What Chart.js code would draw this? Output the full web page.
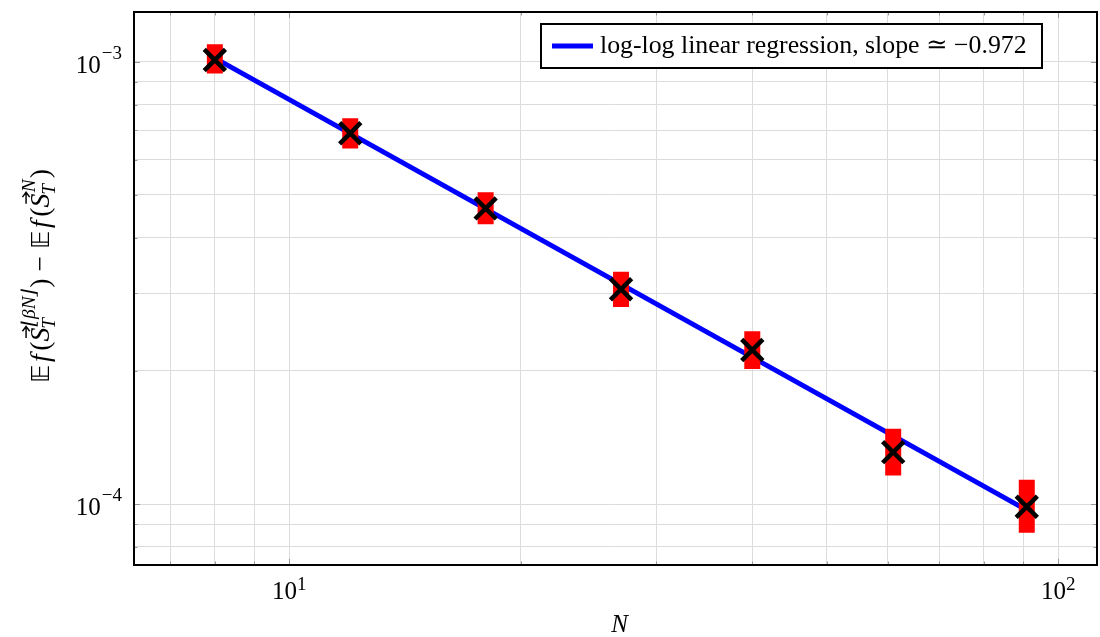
<!DOCTYPE html>
<html lang="en">
<head>
<meta charset="utf-8">
<script src="https://cdn.jsdelivr.net/npm/chart.js@4.4.1/dist/chart.umd.min.js"></script>
<style>
  body { margin: 0; background: #fff; overflow: hidden; }
  #wrap { width: 1100px; height: 637px; }
</style>
</head>
<body>
<div id="wrap"><canvas id="chart" width="1100" height="637"></canvas></div>
<script>
  // values (log-log axes)
  var nValues   = [8, 12, 18, 27, 40, 61, 91];
  var errMean   = [1.009e-3, 6.89e-4, 4.66e-4, 3.06e-4, 2.23e-4, 1.31e-4, 9.86e-5];
  var errLow    = [9.41e-4, 6.37e-4, 4.29e-4, 2.79e-4, 2.02e-4, 1.16e-4, 8.61e-5];
  var errHigh   = [1.095e-3, 7.45e-4, 5.07e-4, 3.35e-4, 2.46e-4, 1.48e-4, 1.135e-4];
  var fitN      = [8, 91];
  var fitValues = [1.019e-3, 9.69e-5];
  var legendText = 'log-log linear regression, slope \u2243 \u22120.972';

  var xTicks = [7, 8, 9, 10, 20, 30, 40, 50, 60, 70, 80, 90, 100];
  var yTicks = [8e-5, 9e-5, 1e-4, 2e-4, 3e-4, 4e-4, 5e-4, 6e-4, 7e-4, 8e-4, 9e-4, 1e-3];
  var xMajor = [10, 100], xMajorExp = ['1', '2'];
  var yMajor = [1e-3, 1e-4], yMajorExp = ['\u22123', '\u22124'];

  var serif = '"Liberation Serif", "DejaVu Serif", serif';
  var mainF = '23px ' + serif;
  var tickF = '25px ' + serif;
  var itF = 'italic 23px ' + serif;
  var bbF = '21px "DejaVu Sans"';
  var scF = 'italic 16px ' + serif;
  var supF = '19px ' + serif;

  // error bars as one broken line: low -> high, then a gap
  var errBars = [];
  for (var i = 0; i < nValues.length; i++) {
    errBars.push({x: nValues[i], y: errLow[i]});
    errBars.push({x: nValues[i], y: errHigh[i]});
    errBars.push({x: nValues[i], y: null});
  }

  // y-axis title: E f(S_T^{floor(bN)}) - E f(S_T^N)
  function half(sup) {
    return [
      {t: '\uD835\uDD3C', f: bbF, pad: 2},
      {t: 'f', f: itF, pad: 3},
      {t: '(', f: mainF},
      {t: 'S', f: itF, vec: true},
      {sub: 'T', sup: sup},
      {t: ')', f: mainF}
    ];
  }
  var titleParts = half('\u230A\u03B2N\u230B').concat([{t: ' \u2212 ', f: mainF}]).concat(half('N'));

  function partWidth(ctx, p) {
    if (p.sub !== undefined) {
      ctx.font = scF;
      return Math.max(ctx.measureText(p.sub).width, ctx.measureText(p.sup).width) + 2;
    }
    ctx.font = p.f;
    return ctx.measureText(p.t).width + (p.pad || 0);
  }

  function drawParts(ctx, parts, x, y) {
    parts.forEach(function(p) {
      var w = partWidth(ctx, p);
      if (p.sub !== undefined) {
        ctx.font = scF;
        ctx.fillText(p.sub, x - 1, y + 5);
        ctx.fillText(p.sup, x + 1, y - 12);
      } else {
        ctx.font = p.f;
        ctx.fillText(p.t, x, y);
        if (p.vec) {
          // little arrow over the S
          var ay = y - 19, ax0 = x + 3, ax1 = x + w + 1;
          ctx.save();
          ctx.lineWidth = 1.2;
          ctx.beginPath();
          ctx.moveTo(ax0, ay); ctx.lineTo(ax1, ay);
          ctx.moveTo(ax1 - 4, ay - 3); ctx.lineTo(ax1, ay); ctx.lineTo(ax1 - 4, ay + 3);
          ctx.stroke();
          ctx.restore();
        }
      }
      x += w;
    });
  }

  var decor = {
    id: 'decor',
    afterDraw: function(chart) {
      var ctx = chart.ctx, a = chart.chartArea;
      var xs = chart.scales.x, ys = chart.scales.y;
      ctx.save();

      // small inward ticks on all four sides
      ctx.strokeStyle = '#9a9a9a';
      ctx.lineWidth = 1;
      ctx.beginPath();
      xTicks.forEach(function(v) {
        var px = Math.round(xs.getPixelForValue(v)) + 0.5;
        var len = xMajor.indexOf(v) >= 0 ? 6 : 3.5;
        ctx.moveTo(px, a.bottom); ctx.lineTo(px, a.bottom - len);
        ctx.moveTo(px, a.top); ctx.lineTo(px, a.top + len);
      });
      yTicks.forEach(function(v) {
        var py = Math.round(ys.getPixelForValue(v)) + 0.5;
        var len = yMajor.indexOf(v) >= 0 ? 6 : 3.5;
        ctx.moveTo(a.left, py); ctx.lineTo(a.left + len, py);
        ctx.moveTo(a.right, py); ctx.lineTo(a.right - len, py);
      });
      ctx.stroke();

      // frame
      ctx.strokeStyle = '#000';
      ctx.lineWidth = 2;
      ctx.strokeRect(a.left, a.top, a.right - a.left, a.bottom - a.top);

      ctx.fillStyle = '#000';
      ctx.textAlign = 'left';
      ctx.textBaseline = 'alphabetic';

      // y tick labels 10^-3, 10^-4
      yMajor.forEach(function(v, i) {
        var py = ys.getPixelForValue(v);
        ctx.font = supF;
        var ws = ctx.measureText(yMajorExp[i]).width;
        ctx.font = tickF;
        var wb = ctx.measureText('10').width;
        var xr = a.left - 12;
        ctx.fillText('10', xr - ws - wb - 1, py + 11);
        ctx.font = supF;
        ctx.fillText(yMajorExp[i], xr - ws, py - 3);
      });

      // x tick labels 10^1, 10^2
      xMajor.forEach(function(v, i) {
        var px = xs.getPixelForValue(v);
        ctx.font = supF;
        var ws = ctx.measureText(xMajorExp[i]).width;
        ctx.font = tickF;
        var wb = ctx.measureText('10').width;
        var x0 = px - (wb + ws) / 2;
        ctx.fillText('10', x0, a.bottom + 34);
        ctx.font = supF;
        ctx.fillText(xMajorExp[i], x0 + wb, a.bottom + 25);
      });

      // x title
      ctx.font = 'italic 25px ' + serif;
      ctx.textAlign = 'center';
      ctx.fillText('N', (a.left + a.right) / 2 + 4, a.bottom + 67);
      ctx.textAlign = 'left';

      // y title, rotated and stretched to the reference length
      var tw = 0;
      titleParts.forEach(function(p) { tw += partWidth(ctx, p); });
      var k = 214 / tw;
      ctx.save();
      ctx.translate(49, 276);
      ctx.rotate(-Math.PI / 2);
      ctx.scale(k, k);
      drawParts(ctx, titleParts, -tw / 2, 0);
      ctx.restore();

      // legend box
      var bx = a.right - 556, by = a.top + 12, bw = 501, bh = 44;
      ctx.fillStyle = '#fff';
      ctx.fillRect(bx, by, bw, bh);
      ctx.strokeStyle = '#000';
      ctx.lineWidth = 2;
      ctx.strokeRect(bx, by, bw, bh);
      ctx.strokeStyle = '#0000ff';
      ctx.lineWidth = 5;
      ctx.beginPath();
      ctx.moveTo(bx + 11, by + 22); ctx.lineTo(bx + 52, by + 22);
      ctx.stroke();
      ctx.font = mainF;
      var lw = ctx.measureText(legendText).width;
      var fs = Math.min(26, 23 * 427 / lw);
      ctx.font = fs.toFixed(1) + 'px ' + serif;
      ctx.fillStyle = '#000';
      ctx.fillText(legendText, bx + 59, by + 29);

      ctx.restore();
    }
  };

  new Chart(document.getElementById('chart'), {
    type: 'scatter',
    data: {
      datasets: [
        {
          label: 'mean',
          data: nValues.map(function(n, i) { return {x: n, y: errMean[i]}; }),
          showLine: false,
          pointStyle: 'crossRot',
          pointRadius: 15,
          pointBorderWidth: 4.5,
          borderWidth: 4.5,
          borderColor: '#000',
          backgroundColor: '#000',
          order: 0
        },
        {
          label: 'confidence',
          data: errBars,
          showLine: true,
          spanGaps: false,
          borderColor: '#ff0000',
          borderWidth: 16,
          borderCapStyle: 'butt',
          pointRadius: 0,
          order: 1
        },
        {
          label: 'fit',
          data: fitN.map(function(n, i) { return {x: n, y: fitValues[i]}; }),
          showLine: true,
          borderColor: '#0000ff',
          borderWidth: 5,
          pointRadius: 0,
          order: 2
        }
      ]
    },
    options: {
      animation: false,
      responsive: false,
      layout: { autoPadding: false, padding: { top: 12, right: 3, left: 0, bottom: 0 } },
      plugins: { legend: { display: false }, tooltip: { enabled: false } },
      scales: {
        x: {
          type: 'logarithmic',
          bounds: 'data',
          min: 6.28, max: 112.3,
          afterBuildTicks: function(s) { s.ticks = xTicks.map(function(v) { return {value: v}; }); },
          afterFit: function(s) { s.height = 72; },
          ticks: { display: false },
          grid: { color: '#dcdcdc', lineWidth: 1, drawTicks: false },
          border: { display: false }
        },
        y: {
          type: 'logarithmic',
          bounds: 'data',
          min: 7.28e-5, max: 1.2957e-3,
          afterBuildTicks: function(s) { s.ticks = yTicks.map(function(v) { return {value: v}; }); },
          afterFit: function(s) { s.width = 134; },
          ticks: { display: false },
          grid: { color: '#dcdcdc', lineWidth: 1, drawTicks: false },
          border: { display: false }
        }
      }
    },
    plugins: [decor]
  });
</script>
</body>
</html>
